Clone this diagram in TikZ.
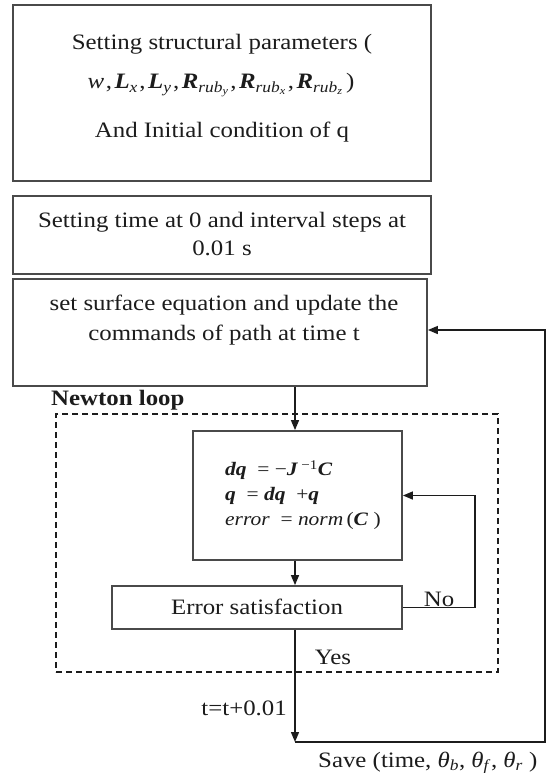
\documentclass[tikz,border=0pt]{standalone}
\usepackage{fontspec}
\setmainfont{Liberation Serif}[FakeStretch=1.13]
\usetikzlibrary{arrows.meta}
\definecolor{ink}{HTML}{1C1C1C}
\definecolor{edge}{HTML}{4A4A4A}
\newcommand{\cm}{\hspace{1.5pt},\hspace{2.5pt}}
\begin{document}
\begin{tikzpicture}[x=1pt,y=-1pt,
  frame/.style={draw=edge,line width=1.8pt,rectangle,inner sep=0pt},
  txt/.style={text=ink,inner sep=0pt,font=\fontsize{22}{26}\selectfont},
  eqtxt/.style={text=ink,inner sep=0pt,align=left,font=\fontsize{19}{25}\selectfont},
  conn/.style={draw=ink,line width=1.4pt},
  arr/.style={conn,-{Triangle[length=10pt,width=8pt]}},
  loopbox/.style={draw=ink,line width=1.4pt,dash pattern=on 6pt off 4pt,rectangle,inner sep=0pt}]
\useasboundingbox (0,0) rectangle (546,773);
\fill[white] (0,0) rectangle (546,773);

% boxes
\node[frame,minimum width=418pt,minimum height=176pt] (b1) at (222,93) {};
\node[frame,minimum width=418pt,minimum height=78pt] (b2) at (222,235) {};
\node[frame,minimum width=414pt,minimum height=107pt] (b3) at (220,332.5) {};
\node[loopbox,minimum width=442pt,minimum height=258pt] (nl) at (277,543) {};
\node[frame,minimum width=209pt,minimum height=129pt] (nb) at (297.5,495.5) {};
\node[frame,minimum width=290pt,minimum height=43pt] (eb) at (257,607.5) {};

% box texts
\node[txt,anchor=base] (t1a) at (222,50) {Setting structural parameters (};
\node[txt,anchor=base] (t1b) at (221,89) {\textit{w}\cm\textbf{\textit{L}}\textsubscript{\textit{x}}\cm\textbf{\textit{L}}\textsubscript{\textit{y}}\cm\textbf{\textit{R}}\textsubscript{\textit{rub}\textsubscript{\textit{y}}}\cm\textbf{\textit{R}}\textsubscript{\textit{rub}\textsubscript{\textit{x}}}\cm\textbf{\textit{R}}\textsubscript{\textit{rub}\textsubscript{\textit{z}}}\hspace{3pt})};
\node[txt,anchor=base] (t1c) at (222,137) {And Initial condition of q};
\node[txt,anchor=base] (t2a) at (222,227) {Setting time at 0 and interval steps at};
\node[txt,anchor=base] (t2b) at (222,255) {0.01 s};
\node[txt,anchor=base] (t3a) at (224,310) {set surface equation and update the};
\node[txt,anchor=base] (t3b) at (224,340) {commands of path at time t};
\node[eqtxt,anchor=west] (teq) at (225,495) {\textbf{\textit{dq}} \ = −\textbf{\textit{J}}\,\textsuperscript{−1}\textbf{\textit{C}}\\
\textbf{\textit{q}} \ = \textbf{\textit{dq}} \ +\textbf{\textit{q}}\\
\textit{error} \ = \textit{norm}\,(\textbf{\textit{C}} )};
\node[txt,anchor=base] (te) at (257,614) {Error satisfaction};

% labels
\node[txt,anchor=base west] (lnl) at (51,405) {\textbf{Newton loop}};
\node[txt,anchor=base] (lno) at (439,606) {No};
\node[txt,anchor=base] (lyes) at (333,664) {Yes};
\node[txt,anchor=base east] (lt) at (287,715) {t=t+0.01};
\node[txt,anchor=base west] (lsave) at (318,767) {Save (time, \textit{θ}\textsubscript{\textit{b}}, \textit{θ}\textsubscript{\textit{f}}, \textit{θ}\textsubscript{\textit{r}} )};

% helper coordinates
\coordinate (mx) at (295,0);
\coordinate (c0) at (295,742);
\coordinate (c1) at (545,742);
\coordinate (c2) at (545,330);
\coordinate (nx) at (475,0);

% connectors
\draw[arr] (b3.south -| mx) -- (nb.north -| mx);
\draw[arr] (nb.south -| mx) -- (eb.north -| mx);
\draw[arr] (eb.south -| mx) -- (c0);
\draw[arr] (c0) -- (c1) -- (c2) -- (b3.east |- c2);
\draw[arr] (eb.east) -- (eb.east -| nx) -- (nb.east -| nx) -- (nb.east);
\end{tikzpicture}
\end{document}
